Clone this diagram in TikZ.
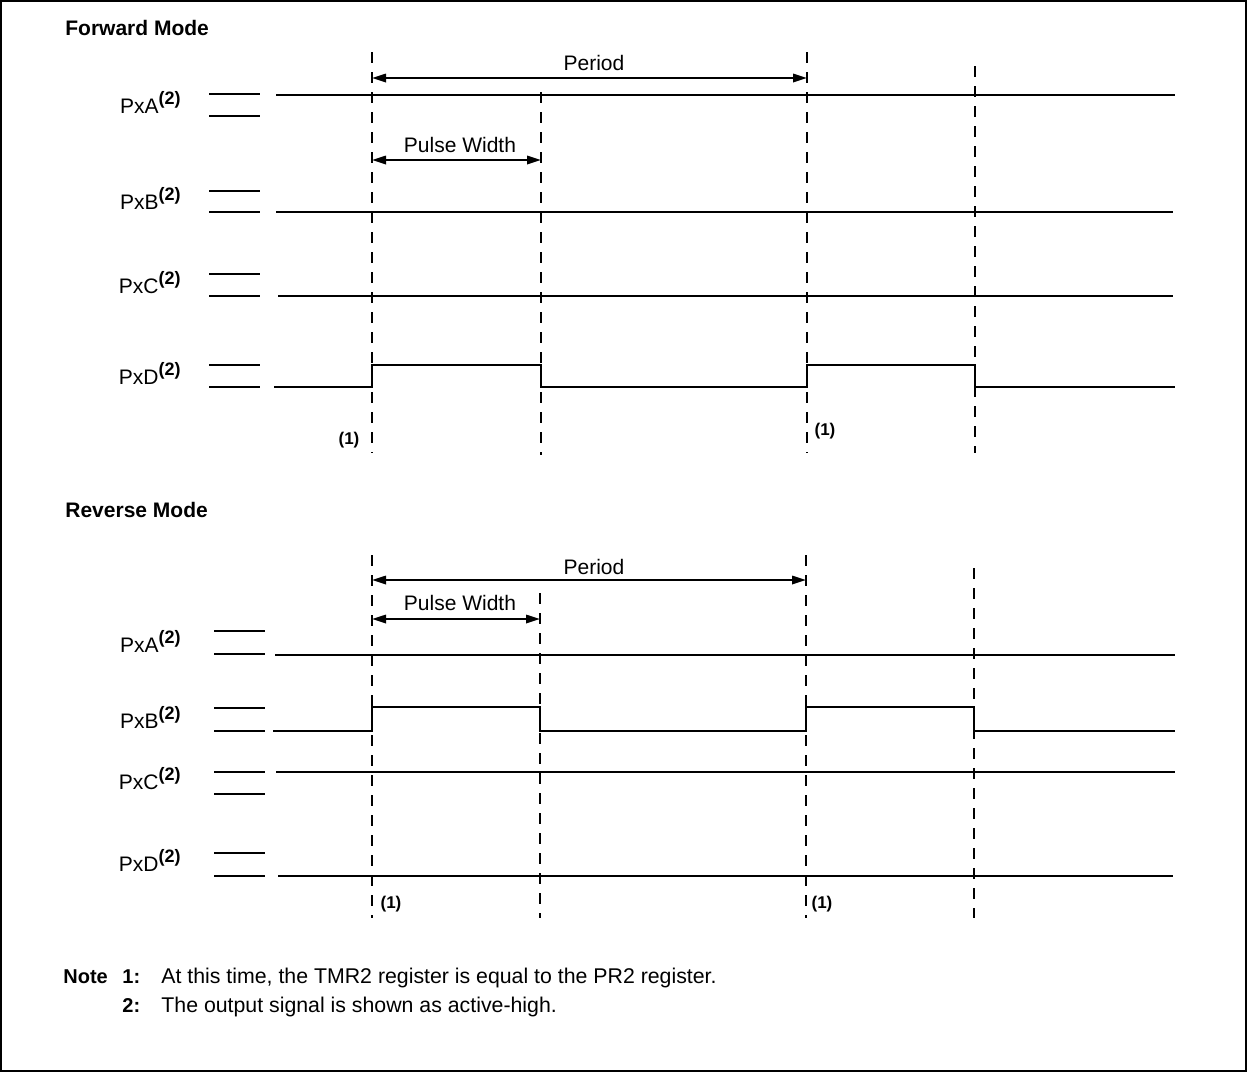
\documentclass[tikz,border=0pt]{standalone}
\usepackage{fontspec}
\setmainfont{Liberation Sans}
\usetikzlibrary{arrows.meta}
\begin{document}
\begin{tikzpicture}[x=0.5pt,y=-0.5pt,
  sig/.style={line width=1.1pt},
  stub/.style={line width=1.1pt},
  guide/.style={line width=1pt,dash pattern=on 5.5pt off 4.5pt},
  dim/.style={line width=1pt,{Triangle[length=7pt,width=4.2pt]}-{Triangle[length=7pt,width=4.2pt]}},
  lbl/.style={anchor=base east,inner sep=0pt,font=\fontsize{10.5}{12}\selectfont},
  txt/.style={anchor=base,inner sep=0pt,font=\fontsize{10.5}{12}\selectfont},
  head/.style={anchor=base west,inner sep=0pt,font=\fontsize{10.5}{12}\selectfont\bfseries},
  mark1/.style={anchor=center,inner sep=0pt,font=\fontsize{8.5}{10}\selectfont\bfseries}]
\newcommand{\sigl}[1]{#1\raisebox{4.5pt}{\fontsize{9}{10}\selectfont\bfseries(2)}}
\useasboundingbox (0,0) rectangle (1247,1072);
\draw[line width=1.1pt] (1,1) rectangle (1246,1071);

% ---------------- Forward Mode ----------------
\node[head] (fwd) at (65,35) {Forward Mode};

% guide lines
\coordinate (f1t) at (372,52);  \coordinate (f1b) at (372,453);
\coordinate (f2t) at (541,92);  \coordinate (f2b) at (541,455);
\coordinate (f3t) at (807,52);  \coordinate (f3b) at (807,453);
\coordinate (f4t) at (975,66);  \coordinate (f4b) at (975,453);
\draw[guide] (f1t) -- (f1b);
\draw[guide] (f2t) -- (f2b);
\draw[guide] (f3t) -- (f3b);
\draw[guide] (f4t) -- (f4b);

% dimension arrows
\coordinate (fpa) at (372,78); \coordinate (fpb) at (807,78);
\draw[dim] (fpa) -- (fpb);
\node[txt] (fper) at (594,70) {Period};
\coordinate (fwa) at (372,160); \coordinate (fwb) at (541,160);
\draw[dim] (fwa) -- (fwb);
\node[txt] (fpw) at (460,152) {Pulse Width};

% labels
\node[lbl] (fA) at (181,113) {\sigl{PxA}};
\node[lbl] (fB) at (181,209) {\sigl{PxB}};
\node[lbl] (fC) at (181,293) {\sigl{PxC}};
\node[lbl] (fD) at (181,384) {\sigl{PxD}};

% stubs
\foreach \y in {94,116,191,212,274,296,365,387}
  \draw[stub] (209,\y) -- (260,\y);

% signals
\draw[sig] (276,95) -- (1175,95);
\draw[sig] (276,212) -- (1173,212);
\draw[sig] (278,296) -- (1173,296);
\draw[sig] (274,387) -- (372,387) -- (372,365) -- (541,365) -- (541,387)
  -- (807,387) -- (807,365) -- (975,365) -- (975,387) -- (1175,387);

\node[mark1] (fn1) at (349,440) {(1)};
\node[mark1] (fn2) at (825,431) {(1)};

% ---------------- Reverse Mode ----------------
\node[head] (rev) at (65,517) {Reverse Mode};

\coordinate (r1t) at (372,555);  \coordinate (r1b) at (372,918);
\coordinate (r2t) at (540,593);  \coordinate (r2b) at (540,918);
\coordinate (r3t) at (806,555);  \coordinate (r3b) at (806,918);
\coordinate (r4t) at (974,568);  \coordinate (r4b) at (974,918);
\draw[guide] (r1t) -- (r1b);
\draw[guide] (r2t) -- (r2b);
\draw[guide] (r3t) -- (r3b);
\draw[guide] (r4t) -- (r4b);

\coordinate (rpa) at (372,580); \coordinate (rpb) at (806,580);
\draw[dim] (rpa) -- (rpb);
\node[txt] (rper) at (594,574) {Period};
\coordinate (rwa) at (372,619); \coordinate (rwb) at (540,619);
\draw[dim] (rwa) -- (rwb);
\node[txt] (rpw) at (460,610) {Pulse Width};

\node[lbl] (rA) at (181,652) {\sigl{PxA}};
\node[lbl] (rB) at (181,728) {\sigl{PxB}};
\node[lbl] (rC) at (181,789) {\sigl{PxC}};
\node[lbl] (rD) at (181,871) {\sigl{PxD}};

\foreach \y in {631,654,708,731,772,794,853,876}
  \draw[stub] (214,\y) -- (265,\y);

\draw[sig] (275,655) -- (1175,655);
\draw[sig] (273,731) -- (372,731) -- (372,707) -- (540,707) -- (540,731)
  -- (806,731) -- (806,707) -- (974,707) -- (974,731) -- (1175,731);
\draw[sig] (276,772) -- (1175,772);
\draw[sig] (278,876) -- (1173,876);

\node[mark1] (rn1) at (391,904) {(1)};
\node[mark1] (rn2) at (822,904) {(1)};

% ---------------- Notes ----------------
\node[anchor=base west,inner sep=0pt,font=\fontsize{10}{12}\selectfont\bfseries] (note) at (63,983) {Note};
\node[anchor=base west,inner sep=0pt,font=\fontsize{10}{12}\selectfont\bfseries] (n1) at (122,983) {1:};
\node[anchor=base west,inner sep=0pt,font=\fontsize{10.65}{12}\selectfont] (t1) at (161,983) {At this time, the TMR2 register is equal to the PR2 register.};
\node[anchor=base west,inner sep=0pt,font=\fontsize{10}{12}\selectfont\bfseries] (n2) at (122,1012) {2:};
\node[anchor=base west,inner sep=0pt,font=\fontsize{10.65}{12}\selectfont] (t2) at (161,1012) {The output signal is shown as active-high.};
\end{tikzpicture}
\end{document}
